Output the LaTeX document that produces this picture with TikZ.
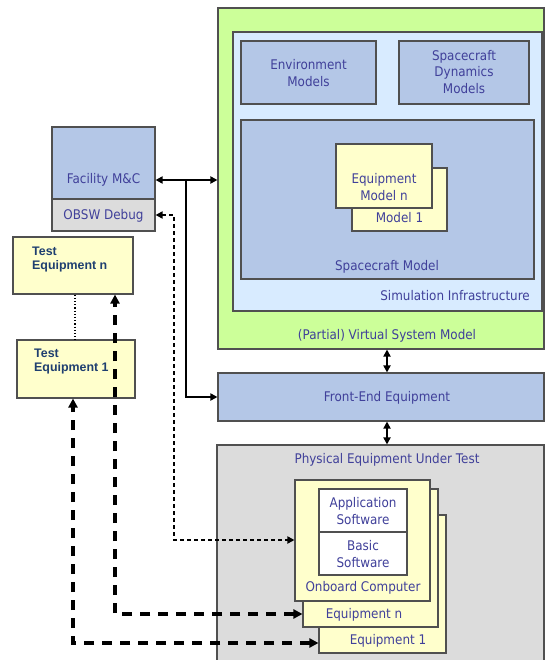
\documentclass[tikz,border=0pt]{standalone}
\usepackage{fontspec}
\setmainfont{DejaVu Sans}[FakeStretch=0.9]
\newfontfamily\tefont{Liberation Sans}[BoldFont={* Bold}]
\usetikzlibrary{arrows.meta}
\definecolor{txtblue}{HTML}{40409A}
\definecolor{teblue}{HTML}{1F3F70}
\definecolor{edgegrey}{HTML}{505050}
\definecolor{vsmgreen}{HTML}{CCFF99}
\definecolor{simblue}{HTML}{D8EBFF}
\definecolor{modblue}{HTML}{B4C7E7}
\definecolor{hwgrey}{HTML}{DCDCDC}
\definecolor{eqyellow}{HTML}{FFFFCC}
\tikzset{
  box/.style={draw=edgegrey, line width=1.1pt, inner sep=0pt, anchor=center},
  lbl/.style={text=txtblue, font=\fontsize{13.3}{16.5}\selectfont, align=center, inner sep=0pt},
  telbl/.style={text=teblue, font=\tefont\bfseries\fontsize{12.4}{14}\selectfont, align=left, inner sep=0pt, anchor=west},
  tip/.style={{Triangle[length=7pt,width=7pt]}-{Triangle[length=7pt,width=7pt]}},
  solidlink/.style={line width=1.8pt, tip},
  debuglink/.style={line width=1.8pt, dash pattern=on 4pt off 3pt, tip},
  testlink/.style={line width=3.2pt, dash pattern=on 10pt off 8pt,
    {Triangle[length=9pt,width=9pt]}-{Triangle[length=9pt,width=9pt]}},
}
\begin{document}
\begin{tikzpicture}[x=1pt, y=-1pt]
\useasboundingbox (0,0) rectangle (545,660);

% (Partial) Virtual System Model
\node[box, fill=vsmgreen, minimum width=326pt, minimum height=341pt] (vsm) at (381,178.5) {};
\node[box, fill=simblue, minimum width=309pt, minimum height=279pt] (sim) at (387.5,171.5) {};
\node[box, fill=modblue, minimum width=135pt, minimum height=63pt] (env) at (308.5,72.5) {};
\node[lbl] (envt) at (308.5,73) {Environment\\Models};
\node[box, fill=modblue, minimum width=130pt, minimum height=63pt] (dyn) at (464,72.5) {};
\node[lbl] (dynt) at (464,72) {Spacecraft\\Dynamics\\Models};
\node[box, fill=modblue, minimum width=293pt, minimum height=159pt] (scm) at (387.5,199.5) {};
\node[box, fill=eqyellow, minimum width=95pt, minimum height=63pt] (em1) at (399.5,199.5) {};
\node[lbl] (em1t) at (399.5,218) {Model 1};
\node[box, fill=eqyellow, minimum width=96pt, minimum height=64pt] (emn) at (384,176) {};
\node[lbl] (emnt) at (384,187) {Equipment\\Model n};
\node[lbl] (scmt) at (387,267) {Spacecraft Model};
\node[lbl, anchor=east] (simt) at (530,296) {Simulation Infrastructure};
\node[lbl] (vsmt) at (387,336) {(Partial) Virtual System Model};

% Front-end equipment
\node[box, fill=modblue, minimum width=326pt, minimum height=48pt] (fe) at (381,397) {};
\node[lbl] (fet) at (387,398) {Front-End Equipment};

% Physical equipment under test
\node[box, fill=hwgrey, minimum width=327pt, minimum height=219pt] (peut) at (380.5,554.5) {};
\node[lbl] (peutt) at (387,460) {Physical Equipment Under Test};
\node[box, fill=eqyellow, minimum width=127pt, minimum height=138pt] (eq1) at (382.5,584) {};
\node[lbl] (eq1t) at (388,641) {Equipment 1};
\node[box, fill=eqyellow, minimum width=135pt, minimum height=138pt] (eqn) at (370.5,558) {};
\node[lbl] (eqnt) at (364,615) {Equipment n};
\node[box, fill=eqyellow, minimum width=135pt, minimum height=121pt] (obc) at (362.5,540.5) {};
\node[lbl] (obct) at (363,588) {Onboard Computer};
\node[box, fill=white, minimum width=88pt, minimum height=43pt] (app) at (363,510.5) {};
\node[lbl] (appt) at (363,511) {Application\\Software};
\node[box, fill=white, minimum width=88pt, minimum height=43pt] (bsw) at (363,553.5) {};
\node[lbl] (bswt) at (363,554) {Basic\\Software};

% Facility monitoring and control
\node[box, fill=modblue, minimum width=103pt, minimum height=72pt] (fmc) at (103.5,163) {};
\node[lbl] (fmct) at (103.5,180) {Facility M\&C};
\node[box, fill=hwgrey, minimum width=103pt, minimum height=32pt] (obsw) at (103.5,215) {};
\node[lbl] (obswt) at (103.5,216) {OBSW Debug};

% Test equipment
\node[box, fill=eqyellow, minimum width=120pt, minimum height=57pt] (ten) at (73,265.5) {};
\node[telbl] (tent) at (32,260) {Test\\Equipment n};
\node[box, fill=eqyellow, minimum width=118pt, minimum height=58pt] (te1) at (76,369) {};
\node[telbl] (te1t) at (34,362) {Test\\Equipment 1};

% Connector routing points
\coordinate (mcy) at (0,180);
\coordinate (br) at (186,180);
\coordinate (cx) at (387,0);
\coordinate (dbg) at (174,540);
\coordinate (tn) at (115,614);
\coordinate (t1) at (73,643);
\coordinate (dt) at (75,0);

% Connectors
\draw[solidlink] (fmc.east |- mcy) -- (vsm.west |- mcy);
\draw[line width=1.8pt, -{Triangle[length=7pt,width=7pt]}] (br) |- (fe.west);
\draw[solidlink] (vsm.south -| cx) -- (fe.north -| cx);
\draw[solidlink] (fe.south -| cx) -- (peut.north -| cx);
\draw[debuglink] (obsw.east) -| (dbg) -- (obc.west |- dbg);
\draw[testlink] (eqn.west |- tn) -- (tn) -- (ten.south -| tn);
\draw[testlink] (eq1.west |- t1) -- (t1) -- (te1.south -| t1);
\draw[line width=1.2pt, dotted] (ten.south -| dt) -- (te1.north -| dt);
\end{tikzpicture}
\end{document}
